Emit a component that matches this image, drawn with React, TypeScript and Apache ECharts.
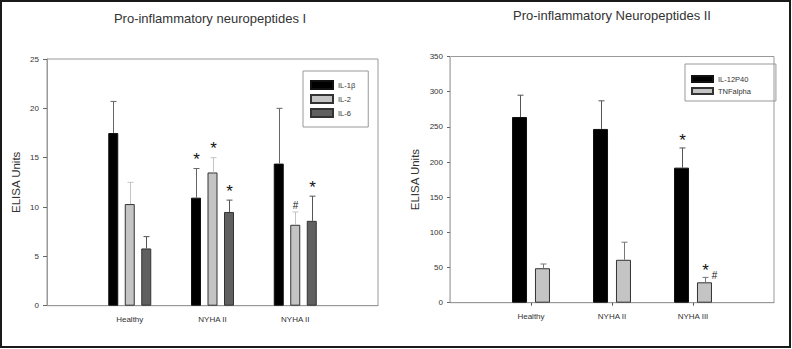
import React, { useEffect, useRef } from "react";
import * as echarts from "echarts";

// ---- Panel I data ----
const categories1 = ["Healthy", "NYHA II", "NYHA II"];
const il1b = [17.5, 10.95, 14.4];
const il1bErr = [20.7, 13.9, 20.0];
const il2 = [10.3, 13.5, 8.2];
const il2Err = [12.5, 15.0, 9.5];
const il6 = [5.8, 9.5, 8.6];
const il6Err = [7.0, 10.7, 11.1];
const il1bMarks = ["", "*", ""];
const il2Marks = ["", "*", "#"];
const il6Marks = ["", "*", "*"];
const yTicks1 = { min: 0, max: 25, interval: 5 };

// ---- Panel II data ----
const categories2 = ["Healthy", "NYHA II", "NYHA III"];
const il12 = [264, 247, 192];
const il12Err = [295, 287, 220];
const tnf = [49, 61, 29];
const tnfErr = [55, 86, 36];
const il12Marks = ["", "", "*"];
const tnfMarks = ["", "", "*#"];
const yTicks2 = { min: 0, max: 350, interval: 50 };

const FONT = "Liberation Sans, Arial, sans-serif";
const pad = (arr: any[]) => ["-", ...arr, "-"];
const padCat = (arr: string[]) => ["", ...arr, ""];

function errSeries(
  name: string,
  axisIndex: number,
  vals: number[],
  errs: number[],
  marks: string[],
  offset: number,
  color: string,
  starDy: number
) {
  return {
    type: "custom",
    name,
    xAxisIndex: axisIndex,
    yAxisIndex: axisIndex,
    z: 5,
    silent: true,
    data: vals.map((v, i) => [i + 1, v, errs[i], i]),
    renderItem: (params: any, api: any) => {
      const x = api.value(0);
      const v = api.value(1);
      const e = api.value(2);
      const idx = api.value(3);
      const pb = api.coord([x, v]);
      const pe = api.coord([x, e]);
      const cx = Math.round(pb[0] + offset) + 0.5;
      const children: any[] = [
        {
          type: "line",
          shape: { x1: cx, y1: pb[1], x2: cx, y2: pe[1] },
          style: { stroke: color, lineWidth: 1 },
        },
        {
          type: "line",
          shape: { x1: cx - 3, y1: pe[1], x2: cx + 3, y2: pe[1] },
          style: { stroke: color, lineWidth: 1 },
        },
      ];
      const m = marks[idx] || "";
      const txt = (t: string, tx: number, ty: number, fs: number) => ({
        type: "text",
        style: {
          text: t,
          x: tx,
          y: ty,
          align: "center",
          verticalAlign: "middle",
          fontSize: fs,
          fontFamily: FONT,
          fill: "#111",
        },
      });
      if (m === "*") {
        children.push(txt("*", cx, pe[1] - starDy, 17));
      } else if (m === "#") {
        children.push(txt("#", cx, pe[1] - 6.5, 10));
      } else if (m === "*#") {
        children.push(txt("*", cx, pe[1] - 7, 17));
        children.push(txt("#", cx + 9, pe[1] - 2, 10));
      }
      return { type: "group", children };
    },
  };
}

export default function App() {
  const ref = useRef<HTMLDivElement>(null);
  useEffect(() => {
    document.body.style.margin = "0";
    if (!ref.current) return;
    const chart = echarts.init(ref.current, undefined, { renderer: "svg" });

    const axisLabelStyle = { fontSize: 8, color: "#333", fontFamily: FONT };
    const nameStyle = { fontSize: 11.5, color: "#333", fontFamily: FONT };
    const lineGray = "#999";

    const option: any = {
      animation: false,
      backgroundColor: "#fff",
      graphic: [
        {
          type: "rect",
          shape: { x: 1, y: 1, width: 789, height: 346 },
          style: { fill: "none", stroke: "#1a1a1a", lineWidth: 2 },
          silent: true,
          z: 100,
        },
        {
          type: "text",
          x: 210,
          y: 18,
          style: {
            text: "Pro-inflammatory neuropeptides I",
            align: "center",
            verticalAlign: "middle",
            fontSize: 13,
            fontFamily: FONT,
            fill: "#333",
          },
        },
        {
          type: "text",
          x: 612,
          y: 15,
          style: {
            text: "Pro-inflammatory Neuropeptides II",
            align: "center",
            verticalAlign: "middle",
            fontSize: 13,
            fontFamily: FONT,
            fill: "#333",
          },
        },
      ],
      legend: [
        {
          left: 303,
          top: 71,
          orient: "vertical",
          data: ["IL-1β", "IL-2", "IL-6"],
          icon: "rect",
          itemWidth: 22,
          itemHeight: 8,
          itemGap: 4,
          itemTextGap: 5,
          padding: [9, 13, 9, 7],
          borderColor: lineGray,
          borderWidth: 1,
          selectedMode: false,
          textStyle: { fontSize: 7.5, lineHeight: 8, color: "#333", fontFamily: FONT },
        },
        {
          left: 685,
          top: 64,
          orient: "vertical",
          data: ["IL-12P40", "TNFalpha"],
          icon: "rect",
          itemWidth: 21,
          itemHeight: 6,
          itemGap: 4,
          itemTextGap: 5,
          padding: [11, 25, 6, 6],
          borderColor: lineGray,
          borderWidth: 1,
          selectedMode: false,
          textStyle: { fontSize: 7.5, lineHeight: 7, color: "#333", fontFamily: FONT },
        },
      ],
      grid: [
        {
          left: 47,
          top: 59,
          width: 331,
          height: 246.7,
          show: true,
          borderColor: lineGray,
          borderWidth: 1,
          backgroundColor: "transparent",
        },
        {
          left: 450,
          top: 56.5,
          width: 324,
          height: 246.2,
          show: true,
          borderColor: lineGray,
          borderWidth: 1,
          backgroundColor: "transparent",
        },
      ],
      xAxis: [
        {
          type: "category",
          gridIndex: 0,
          data: padCat(categories1),
          boundaryGap: false,
          axisLine: { lineStyle: { color: lineGray } },
          axisTick: { show: false },
          axisLabel: { ...axisLabelStyle, interval: 0, margin: 10 },
          splitLine: { show: false },
        },
        {
          type: "category",
          gridIndex: 1,
          data: padCat(categories2),
          boundaryGap: false,
          axisLine: { lineStyle: { color: lineGray } },
          axisTick: {
            show: true,
            length: 3,
            interval: (i: number) => i >= 1 && i <= 3,
            lineStyle: { color: "#555" },
          },
          axisLabel: { ...axisLabelStyle, interval: 0, margin: 10 },
          splitLine: { show: false },
        },
      ],
      yAxis: [
        {
          type: "value",
          gridIndex: 0,
          ...yTicks1,
          name: "ELISA Units",
          nameLocation: "middle",
          nameGap: 25,
          nameTextStyle: nameStyle,
          axisLine: { show: true, lineStyle: { color: lineGray } },
          axisTick: { show: true, length: 4, lineStyle: { color: "#666" } },
          axisLabel: { ...axisLabelStyle, margin: 8 },
          splitLine: { show: false },
        },
        {
          type: "value",
          gridIndex: 1,
          ...yTicks2,
          name: "ELISA Units",
          nameLocation: "middle",
          nameGap: 29,
          nameTextStyle: nameStyle,
          axisLine: { show: true, lineStyle: { color: "#bbb" } },
          axisTick: { show: true, length: 3, lineStyle: { color: "#666" } },
          axisLabel: { ...axisLabelStyle, margin: 7 },
          splitLine: { show: false },
        },
      ],
      series: [
        {
          type: "bar",
          name: "IL-1β",
          xAxisIndex: 0,
          yAxisIndex: 0,
          data: pad(il1b),
          barWidth: 10,
          barGap: "65%",
          itemStyle: { color: "#000", borderColor: "#111", borderWidth: 1 },
        },
        {
          type: "bar",
          name: "IL-2",
          xAxisIndex: 0,
          yAxisIndex: 0,
          data: pad(il2),
          barWidth: 10,
          barGap: "65%",
          itemStyle: { color: "#c4c4c4", borderColor: "#333", borderWidth: 1 },
        },
        {
          type: "bar",
          name: "IL-6",
          xAxisIndex: 0,
          yAxisIndex: 0,
          data: pad(il6),
          barWidth: 10,
          barGap: "65%",
          itemStyle: { color: "#606060", borderColor: "#333", borderWidth: 1 },
        },
        errSeries("err-IL-1β", 0, il1b, il1bErr, il1bMarks, -16.5, "#666", 9),
        errSeries("err-IL-2", 0, il2, il2Err, il2Marks, 0, "#c4c4c4", 9),
        errSeries("err-IL-6", 0, il6, il6Err, il6Marks, 16.5, "#555", 9),
        {
          type: "bar",
          name: "IL-12P40",
          xAxisIndex: 1,
          yAxisIndex: 1,
          data: pad(il12),
          barWidth: 15,
          barGap: "53%",
          itemStyle: { color: "#000", borderColor: "#111", borderWidth: 1 },
        },
        {
          type: "bar",
          name: "TNFalpha",
          xAxisIndex: 1,
          yAxisIndex: 1,
          data: pad(tnf),
          barWidth: 15,
          barGap: "53%",
          itemStyle: { color: "#c4c4c4", borderColor: "#333", borderWidth: 1 },
        },
        errSeries("err-IL-12P40", 1, il12, il12Err, il12Marks, -11.5, "#555", 7.5),
        errSeries("err-TNFalpha", 1, tnf, tnfErr, tnfMarks, 11.5, "#777", 7),
      ],
    };

    chart.setOption(option);
    return () => chart.dispose();
  }, []);

  return <div ref={ref} style={{ width: 792, height: 349 }} />;
}
